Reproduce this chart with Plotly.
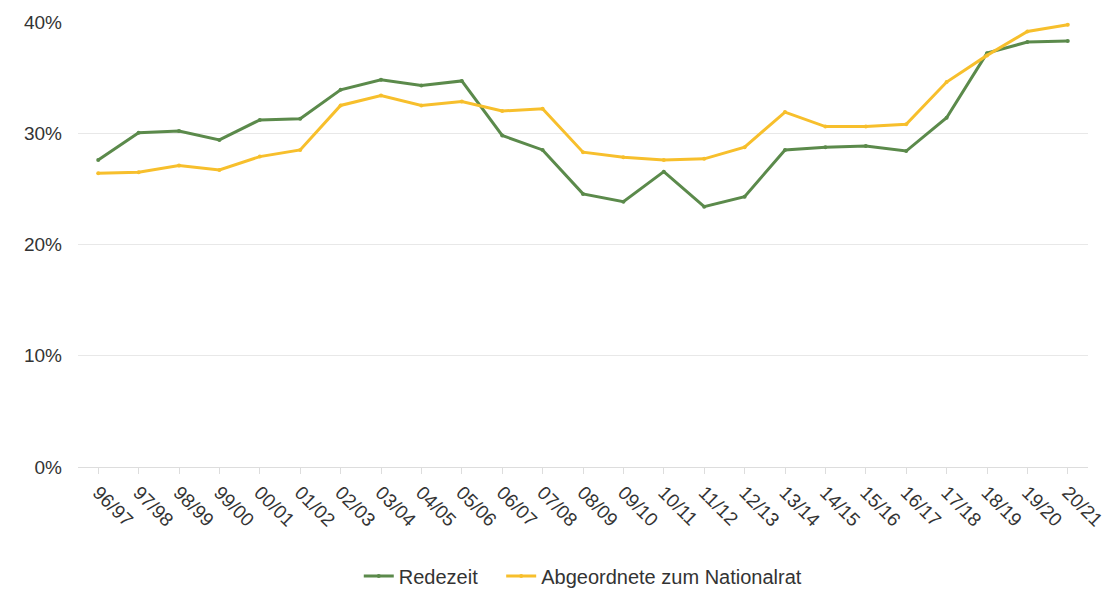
import plotly.graph_objects as go

categories = ["96/97", "97/98", "98/99", "99/00", "00/01", "01/02", "02/03", "03/04",
              "04/05", "05/06", "06/07", "07/08", "08/09", "09/10", "10/11", "11/12",
              "12/13", "13/14", "14/15", "15/16", "16/17", "17/18", "18/19", "19/20", "20/21"]

redezeit = [27.6, 30.05, 30.2, 29.4, 31.2, 31.3, 33.9, 34.8, 34.3, 34.7,
            29.8, 28.5, 24.55, 23.85, 26.55, 23.4, 24.3, 28.5, 28.75, 28.85,
            28.4, 31.4, 37.2, 38.2, 38.3]

abgeordnete = [26.4, 26.5, 27.1, 26.7, 27.9, 28.5, 32.5, 33.4, 32.5, 32.85,
               32.0, 32.2, 28.3, 27.85, 27.6, 27.7, 28.75, 31.9, 30.6, 30.6,
               30.8, 34.6, 37.0, 39.15, 39.75]

y_ticks = [0, 10, 20, 30, 40]
y_labels = ["0%", "10%", "20%", "30%", "40%"]

GREEN = "#5b8a4b"
YELLOW = "#f7bf2c"

fig = go.Figure()
fig.add_trace(go.Scatter(x=categories, y=redezeit, name="Redezeit",
                         mode="lines+markers", legend="legend",
                         line=dict(color=GREEN, width=3),
                         marker=dict(color=GREEN, size=4)))
fig.add_trace(go.Scatter(x=categories, y=abgeordnete, name="Abgeordnete zum Nationalrat",
                         mode="lines+markers", legend="legend2",
                         line=dict(color=YELLOW, width=3),
                         marker=dict(color=YELLOW, size=4)))

legend_common = dict(orientation="h", xanchor="left", y=-0.245, yanchor="middle",
                     font=dict(size=20, color="#333333"), itemwidth=30,
                     bgcolor="rgba(0,0,0,0)")

fig.update_layout(
    width=1107, height=581,
    margin=dict(l=70, r=27, t=14, b=122, autoexpand=False),
    paper_bgcolor="white", plot_bgcolor="white",
    font=dict(family="Liberation Sans, Arial, sans-serif", size=19, color="#333333"),
    showlegend=True,
    legend=dict(x=0.278, **legend_common),
    legend2=dict(x=0.419, **legend_common),
)
fig.update_xaxes(type="category", range=[-0.5, len(categories) - 0.5], automargin=False,
                 tickangle=45, showgrid=False, showline=True, linecolor="#dddddd",
                 linewidth=1, ticks="outside", ticklen=6, tickcolor="#dddddd",
                 tickfont=dict(size=19, color="#333333"))
fig.update_yaxes(range=[0, 40], tickvals=y_ticks, ticktext=y_labels, automargin=False,
                 showgrid=True, gridcolor="#e8e8e8", gridwidth=1,
                 zeroline=False, showline=False, ticks="", ticklabelstandoff=15,
                 tickfont=dict(size=19, color="#333333"))

fig.write_html("out.html")
